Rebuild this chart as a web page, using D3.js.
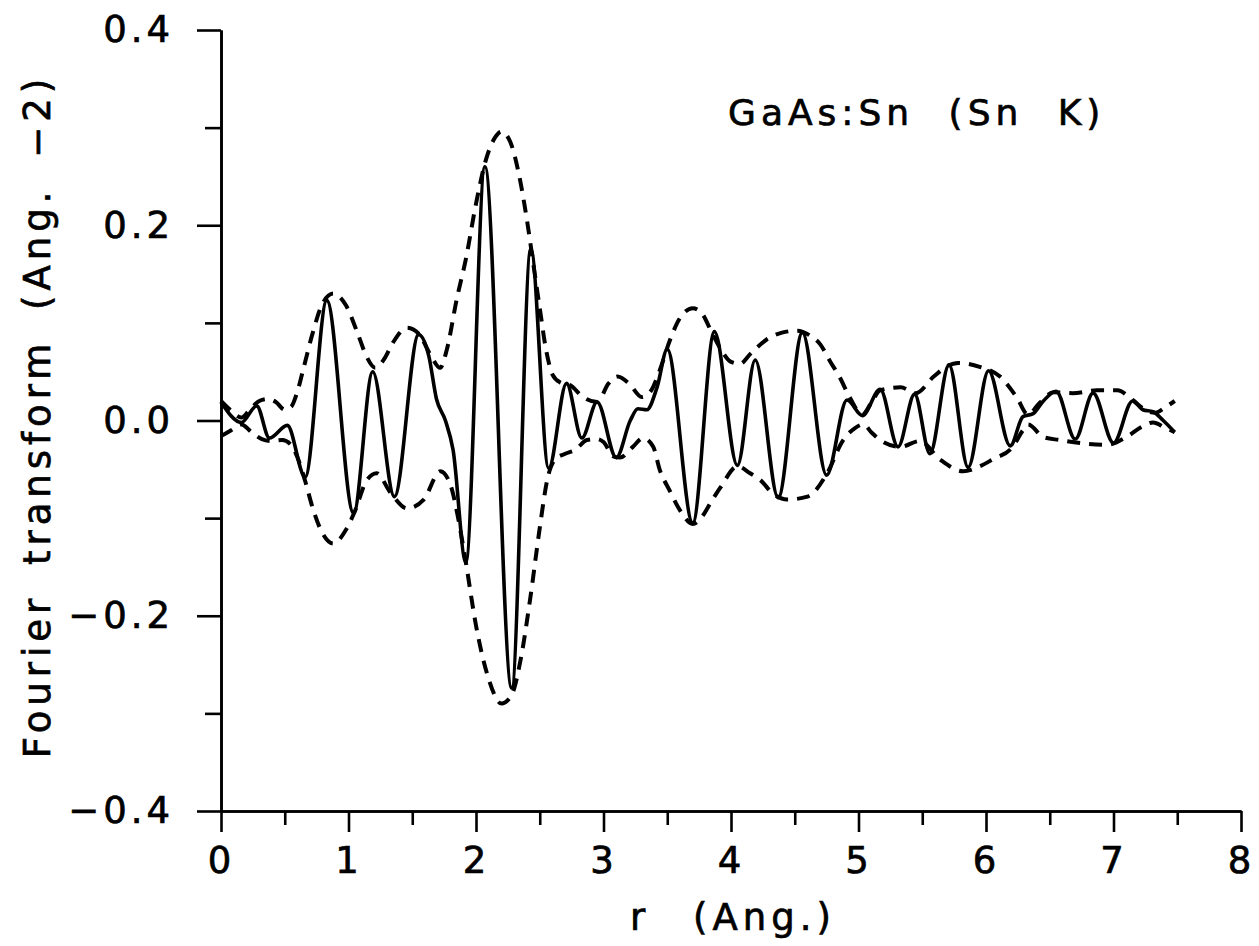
<!DOCTYPE html>
<html lang="en"><head>
<meta charset="utf-8">
<title>GaAs:Sn (Sn K)</title>
<script src="https://cdnjs.cloudflare.com/ajax/libs/d3/7.8.5/d3.min.js" charset="utf-8"></script>
<style type="text/css">
  body{
    margin:0;
    background:#fff;
  }
  .chart text{
    font-family: "DejaVu Sans", sans-serif;
    fill:#000;
    stroke:#000;
    stroke-width:0.7px;
  }
  .axis path, .axis line{
    stroke:#000;
    stroke-width:2.6px;
  }
  .axis text{
    font-size:37px;
    letter-spacing:4px;
  }
  .ft{
    fill:none;
    stroke:#000;
    stroke-width:3.6px;
    stroke-linejoin:round;
  }
  .env{
    fill:none;
    stroke:#000;
    stroke-width:4px;
    stroke-dasharray:13,9;
  }
</style>
</head>
<body>
<svg class="chart" width="1259" height="946"></svg>
<script>
// tick values
var xMajor = [0, 1, 2, 3, 4, 5, 6, 7, 8]
var xMinor = [0.5, 1.5, 2.5, 3.5, 4.5, 5.5, 6.5, 7.5]
var yMajor = [-0.4, -0.2, 0.0, 0.2, 0.4]
var yMinor = [-0.3, -0.1, 0.1, 0.3]

// solid curve, Fourier transform (r in Ang., value)
var ftR = [0.00, 0.16, 0.28, 0.38, 0.52, 0.66, 0.83, 1.04, 1.19, 1.36,
  1.55, 1.63, 1.69, 1.76, 1.82, 1.92, 2.07, 2.28, 2.43, 2.57,
  2.71, 2.83, 2.95, 3.10, 3.21, 3.27, 3.34, 3.42, 3.50, 3.70,
  3.87, 4.05, 4.19, 4.37, 4.56, 4.75, 4.91, 5.03, 5.17, 5.31,
  5.44, 5.56, 5.71, 5.86, 6.02, 6.19, 6.29, 6.37, 6.45, 6.55,
  6.70, 6.84, 7.00, 7.15, 7.23, 7.31, 7.39, 7.48]
var ftVal = [0.019, -0.002, 0.015, -0.018, -0.005, -0.058, 0.123, -0.095, 0.050, -0.078,
  0.088, 0.066, 0.022, 0.000, -0.030, -0.145, 0.260, -0.274, 0.176, -0.049,
  0.038, -0.018, 0.019, -0.038, 0.000, 0.012, 0.011, 0.034, 0.073, -0.105,
  0.091, -0.046, 0.062, -0.079, 0.090, -0.056, 0.021, 0.005, 0.032, -0.027,
  0.027, -0.034, 0.057, -0.048, 0.051, -0.026, 0.004, 0.007, 0.020, 0.030,
  -0.019, 0.028, -0.023, 0.020, 0.011, 0.009, 0.000, -0.012]

// dashed envelope, upper branch
var upR = [0.00, 0.08, 0.16, 0.22, 0.30, 0.37, 0.43, 0.50, 0.55, 0.60,
  0.65, 0.72, 0.79, 0.88, 0.98, 1.07, 1.14, 1.21, 1.28, 1.35,
  1.46, 1.55, 1.64, 1.72, 1.77, 1.85, 1.92, 2.00, 2.08, 2.15,
  2.20, 2.27, 2.34, 2.40, 2.45, 2.50, 2.55, 2.60, 2.66, 2.74,
  2.84, 2.95, 3.04, 3.11, 3.20, 3.30, 3.37, 3.44, 3.52, 3.60,
  3.70, 3.77, 3.85, 3.92, 4.00, 4.07, 4.15, 4.28, 4.40, 4.52,
  4.62, 4.70, 4.78, 4.85, 4.93, 5.03, 5.10, 5.17, 5.33, 5.45,
  5.59, 5.70, 5.78, 5.95, 6.11, 6.24, 6.33, 6.42, 6.53, 6.68,
  6.87, 7.03, 7.15, 7.26, 7.33, 7.40, 7.48]
var upVal = [0.020, 0.010, 0.003, 0.010, 0.020, 0.022, 0.019, 0.011, 0.014, 0.030,
  0.055, 0.090, 0.118, 0.130, 0.118, 0.090, 0.066, 0.054, 0.063, 0.080,
  0.095, 0.089, 0.068, 0.054, 0.072, 0.125, 0.165, 0.222, 0.268, 0.290,
  0.296, 0.285, 0.250, 0.205, 0.160, 0.115, 0.072, 0.047, 0.039, 0.036,
  0.024, 0.019, 0.038, 0.045, 0.038, 0.024, 0.030, 0.051, 0.082, 0.105,
  0.115, 0.110, 0.090, 0.073, 0.060, 0.058, 0.068, 0.083, 0.090, 0.092,
  0.087, 0.078, 0.060, 0.045, 0.024, 0.006, 0.018, 0.031, 0.034, 0.028,
  0.045, 0.056, 0.059, 0.055, 0.045, 0.024, 0.006, 0.018, 0.029, 0.028,
  0.031, 0.031, 0.021, 0.010, 0.008, 0.013, 0.020]

// dashed envelope, lower branch
var lowR = [0.00, 0.08, 0.16, 0.24, 0.32, 0.40, 0.48, 0.55, 0.60, 0.66,
  0.72, 0.79, 0.88, 0.98, 1.05, 1.14, 1.22, 1.33, 1.46, 1.59,
  1.72, 1.80, 1.86, 1.92, 2.00, 2.10, 2.20, 2.28, 2.35, 2.43,
  2.50, 2.56, 2.62, 2.70, 2.78, 2.87, 2.95, 3.00, 3.08, 3.13,
  3.23, 3.31, 3.39, 3.44, 3.52, 3.60, 3.70, 3.77, 3.85, 3.92,
  4.05, 4.15, 4.23, 4.33, 4.44, 4.60, 4.75, 4.88, 4.97, 5.04,
  5.10, 5.17, 5.33, 5.48, 5.64, 5.82, 5.95, 6.05, 6.21, 6.29,
  6.33, 6.45, 6.58, 6.74, 6.95, 7.10, 7.23, 7.31, 7.40, 7.48]
var lowVal = [-0.016, -0.010, -0.004, -0.012, -0.019, -0.021, -0.020, -0.025, -0.038, -0.062,
  -0.090, -0.114, -0.126, -0.112, -0.093, -0.062, -0.054, -0.074, -0.090, -0.081,
  -0.052, -0.066, -0.100, -0.145, -0.210, -0.265, -0.290, -0.281, -0.245, -0.178,
  -0.110, -0.060, -0.040, -0.034, -0.030, -0.020, -0.019, -0.022, -0.037, -0.038,
  -0.027, -0.018, -0.027, -0.050, -0.072, -0.092, -0.106, -0.099, -0.082, -0.068,
  -0.047, -0.054, -0.061, -0.075, -0.081, -0.078, -0.055, -0.020, -0.008, -0.004,
  -0.012, -0.020, -0.027, -0.021, -0.040, -0.052, -0.047, -0.040, -0.027, -0.010,
  -0.004, -0.017, -0.020, -0.023, -0.025, -0.017, -0.006, -0.002, -0.007, -0.012]

var svg = d3.select('.chart')

var x = d3.scaleLinear().domain([0, 8]).range([221, 1241])
var y = d3.scaleLinear().domain([-0.4, 0.4]).range([811, 30])

function pairs(rs, vs) {
  return rs.map(function(r, i) { return [r, vs[i]] })
}

var line = d3.line()
  .x(function(d) { return x(d[0]) })
  .y(function(d) { return y(d[1]) })
  .curve(d3.curveMonotoneX)

// axes - minor ticks first, then major with labels
svg.append("g")
  .attr("class", "axis")
  .attr("transform", "translate(0,811)")
  .call(d3.axisBottom(x).tickValues(xMinor).tickSize(14).tickSizeOuter(0).tickFormat(""))

svg.append("g")
  .attr("class", "axis")
  .attr("transform", "translate(0,811)")
  .call(d3.axisBottom(x).tickValues(xMajor).tickSize(21).tickSizeOuter(0)
    .tickPadding(15).tickFormat(d3.format("d")))

svg.append("g")
  .attr("class", "axis")
  .attr("transform", "translate(221,0)")
  .call(d3.axisLeft(y).tickValues(yMinor).tickSize(16).tickSizeOuter(0).tickFormat(""))

svg.append("g")
  .attr("class", "axis")
  .attr("transform", "translate(221,0)")
  .call(d3.axisLeft(y).tickValues(yMajor).tickSize(24).tickSizeOuter(0)
    .tickPadding(23).tickFormat(d3.format(".1f")))

// curves
svg.append("path")
  .attr("class", "env")
  .attr("d", line(pairs(upR, upVal)))

svg.append("path")
  .attr("class", "env")
  .attr("d", line(pairs(lowR, lowVal)))

svg.append("path")
  .attr("class", "ft")
  .attr("d", line(pairs(ftR, ftVal)))

// labels
svg.append("text")
  .attr("x", 733)
  .attr("y", 930)
  .attr("text-anchor", "middle")
  .attr("font-size", "37px")
  .attr("letter-spacing", "5px")
  .attr("word-spacing", "26px")
  .text("r (Ang.)")

svg.append("text")
  .attr("transform", "translate(50,416) rotate(-90)")
  .attr("text-anchor", "middle")
  .attr("font-size", "37px")
  .attr("letter-spacing", "5px")
  .attr("word-spacing", "12px")
  .text("Fourier transform (Ang. \u22122)")

svg.append("text")
  .attr("x", 728)
  .attr("y", 125)
  .attr("font-size", "36px")
  .attr("letter-spacing", "5px")
  .attr("word-spacing", "18px")
  .text("GaAs:Sn (Sn K)")
</script>
</body></html>
